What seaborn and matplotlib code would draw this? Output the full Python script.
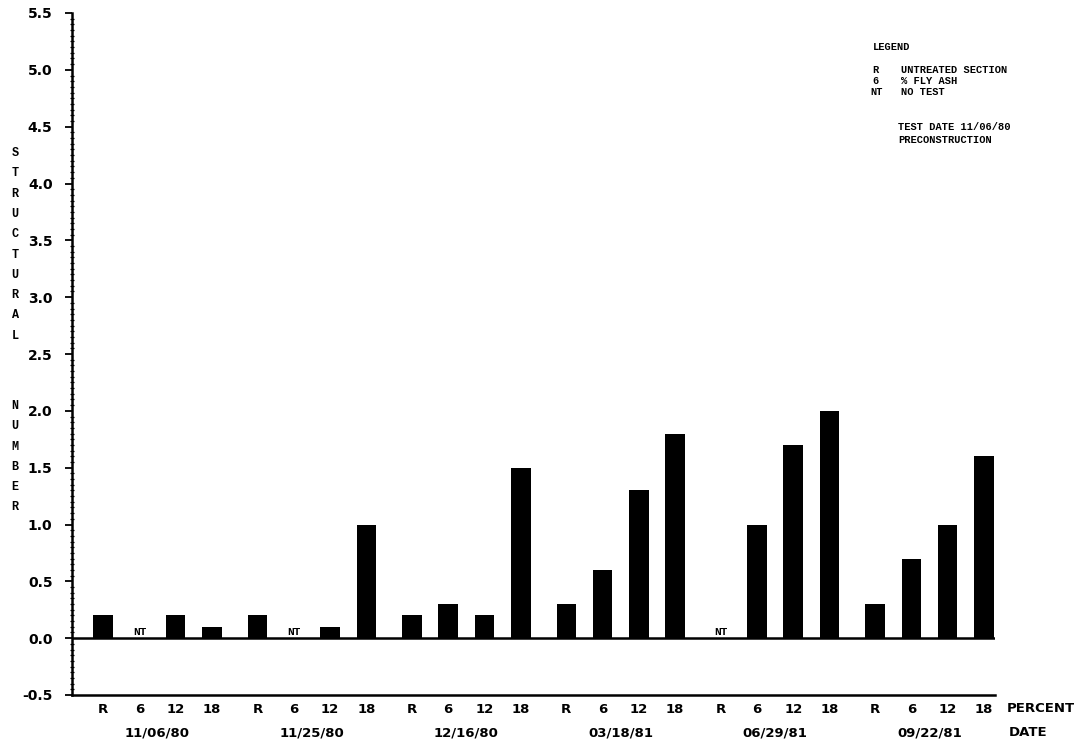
import numpy as np
import pandas as pd
import matplotlib
matplotlib.use("Agg")
import matplotlib.pyplot as plt
import seaborn as sns
from matplotlib.ticker import MultipleLocator

# test dates and fly ash percentages
dates = ["11/06/80", "11/25/80", "12/16/80", "03/18/81", "06/29/81", "09/22/81"]
percents = ["R", "6", "12", "18"]

# structural number per date, None = no test (NT)
sn_r = [0.2, 0.2, 0.2, 0.3, None, 0.3]
sn_6 = [None, None, 0.3, 0.6, 1.0, 0.7]
sn_12 = [0.2, 0.1, 0.2, 1.3, 1.7, 1.0]
sn_18 = [0.1, 1.0, 1.5, 1.8, 2.0, 1.6]

y_ticks = [-0.5, 0.0, 0.5, 1.0, 1.5, 2.0, 2.5, 3.0, 3.5, 4.0, 4.5, 5.0, 5.5]

W, H = 1087, 743


def px(x, y):
    return x / W, 1 - y / H


rows = []
for pct, vals in zip(percents, [sn_r, sn_6, sn_12, sn_18]):
    for d, v in zip(dates, vals):
        rows.append({"date": d, "percent": pct,
                     "sn": 0.0 if v is None else v, "nt": v is None})
df = pd.DataFrame(rows)

sns.set_style("ticks")
plt.rcParams["font.family"] = ["DejaVu Sans"]
plt.rcParams["font.weight"] = "bold"
plt.rcParams["text.color"] = "black"
plt.rcParams["xtick.color"] = "black"
plt.rcParams["ytick.color"] = "black"

fig = plt.figure(figsize=(W / 100, H / 100), dpi=100)
ax = fig.add_axes([72 / W, 1 - 695 / H, (995 - 72) / W, (695 - 13) / H])

sns.barplot(data=df, x="date", y="sn", hue="percent", order=dates,
            hue_order=percents, palette=["black"] * 4, saturation=1,
            width=0.94, gap=0.46, dodge=True, errorbar=None, legend=False,
            linewidth=0, ax=ax)

ax.set_xlim(-0.554, 5.424)
ax.set_ylim(-0.5, 5.5)
ax.axhline(0, color="black", lw=1.8, zorder=3)

for s in ["top", "right"]:
    ax.spines[s].set_visible(False)
for s in ["left", "bottom"]:
    ax.spines[s].set_linewidth(1.8)
    ax.spines[s].set_color("black")

# y axis
ax.set_yticks(y_ticks)
ax.set_yticklabels([f"{t:.1f}" for t in y_ticks], fontsize=10,
                   fontweight="heavy")
ax.yaxis.set_minor_locator(MultipleLocator(0.05))
ax.tick_params(axis="y", which="major", direction="out", length=5, width=1.3,
               pad=9)
ax.tick_params(axis="y", which="minor", direction="inout", length=3, width=0.9)

# x axis: percent under each bar, date under each group
centers, labels = [], []
for pct, cont in zip(percents, ax.containers):
    sub = df[df["percent"] == pct].set_index("date").loc[dates]
    for bar, nt in zip(cont, sub["nt"]):
        cx = bar.get_x() + bar.get_width() / 2
        centers.append(cx)
        labels.append(pct)
        if nt:
            ax.text(cx, 0.01, "NT", ha="center", va="bottom", fontsize=8,
                    fontweight="bold", family="Liberation Mono")

ax.set_xticks(range(len(dates)), dates, fontsize=9.5, fontweight="heavy")
ax.set_xticks(centers, labels, minor=True, fontsize=9.5, fontweight="heavy")
ax.tick_params(axis="x", which="major", length=0, pad=23)
ax.tick_params(axis="x", which="minor", length=0, pad=6)
ax.set_xlabel("")
ax.set_ylabel("")

fig.text(*px(1007, 708), "PERCENT", fontsize=9.5, fontweight="heavy",
         va="center")
fig.text(*px(1009, 732), "DATE", fontsize=9.5, fontweight="heavy",
         va="center")

# vertical stacked axis title
for i, ch in enumerate("STRUCTURAL"):
    fig.text(*px(15, 153 + i * 20.3), ch, fontsize=8.5, fontweight="bold",
             ha="center", va="center", family="Liberation Mono")
for i, ch in enumerate("NUMBER"):
    fig.text(*px(15, 406 + i * 20.3), ch, fontsize=8.5, fontweight="bold",
             ha="center", va="center", family="Liberation Mono")

# legend block
mono = dict(fontsize=7.5, fontweight="bold", family="Liberation Mono",
            va="center")
fig.text(*px(873, 47), "LEGEND", **mono)
fig.text(*px(872, 70), "R", **mono)
fig.text(*px(901, 70), "UNTREATED SECTION", **mono)
fig.text(*px(872, 81), "6", **mono)
fig.text(*px(901, 81), "% FLY ASH", **mono)
fig.text(*px(870, 92), "NT", **mono)
fig.text(*px(901, 92), "NO TEST", **mono)
fig.text(*px(898, 127), "TEST DATE 11/06/80", **mono)
fig.text(*px(898, 140), "PRECONSTRUCTION", **mono)

fig.savefig("out.png", dpi=100)
plt.close(fig)
